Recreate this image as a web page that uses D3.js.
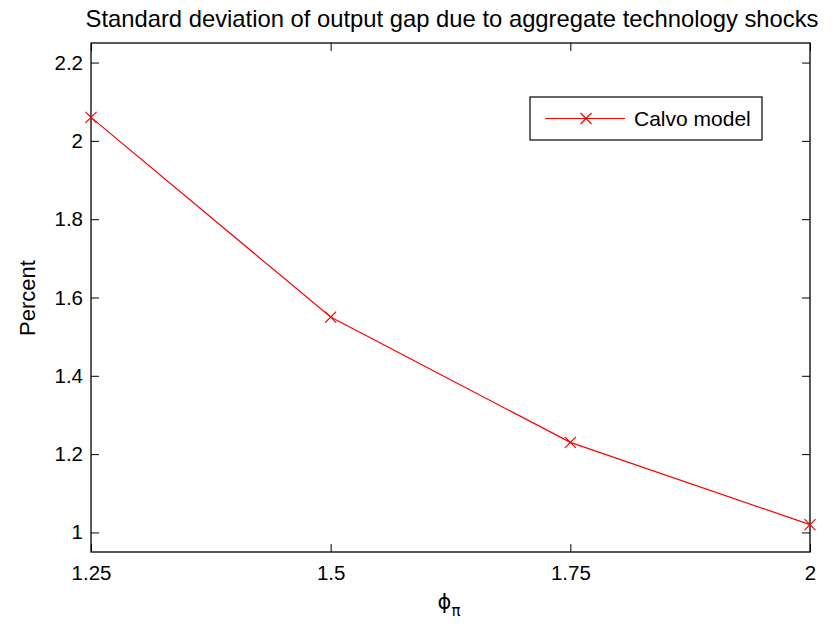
<!DOCTYPE html>
<html><head><meta charset="utf-8">
<script src="https://cdn.jsdelivr.net/npm/d3@7"></script>
<style>body{margin:0;background:#fff}svg{display:block}text{font-family:"Liberation Sans",Arial,sans-serif}</style>
</head><body><svg id="c" width="834" height="626"></svg>
<script>
const phiValues = [1.25, 1.5, 1.75, 2];
const calvoValues = [2.06, 1.55, 1.23, 1.02];
const xTicks = [1.25, 1.5, 1.75, 2];
const xTickLabels = ["1.25", "1.5", "1.75", "2"];
const yTicks = [1, 1.2, 1.4, 1.6, 1.8, 2, 2.2];
const yTickLabels = ["1", "1.2", "1.4", "1.6", "1.8", "2", "2.2"];
const seriesName = "Calvo model";
const titleText = "Standard deviation of output gap due to aggregate technology shocks";

const svg = d3.select("#c");
const L = 91, R = 810, T = 43, B = 552;
const x = d3.scaleLinear().domain([1.25, 2]).range([L, R]);
const y = d3.scaleLinear().domain([0.95, 2.25]).range([B, T]);
const tl = 8;
const fs = 20.5;

const gx = svg.append("g").attr("transform", `translate(0,${B})`)
  .call(d3.axisBottom(x).tickValues(xTicks).tickFormat((d,i)=>xTickLabels[i]).tickSizeInner(-tl).tickSizeOuter(0).tickPadding(13));
const gxt = svg.append("g").attr("transform", `translate(0,${T})`)
  .call(d3.axisTop(x).tickValues(xTicks).tickFormat("").tickSizeInner(-tl).tickSizeOuter(0));
const gy = svg.append("g").attr("transform", `translate(${L},0)`)
  .call(d3.axisLeft(y).tickValues(yTicks).tickFormat((d,i)=>yTickLabels[i]).tickSizeInner(-tl).tickSizeOuter(0).tickPadding(8));
const gyr = svg.append("g").attr("transform", `translate(${R},0)`)
  .call(d3.axisRight(y).tickValues(yTicks).tickFormat("").tickSizeInner(-tl).tickSizeOuter(0));
[gx,gxt,gy,gyr].forEach(g=>{
  g.select(".domain").remove();
  g.selectAll("line").attr("stroke","#000").attr("stroke-width",1);
  g.selectAll("text").attr("font-size",fs).attr("fill","#000").style("font-family","'Liberation Sans',Arial,sans-serif");
});
svg.append("rect").attr("x",L).attr("y",T).attr("width",R-L).attr("height",B-T)
  .attr("fill","none").attr("stroke","#000").attr("stroke-width",1.3);

const line = d3.line().x((d,i)=>x(phiValues[i])).y(d=>y(d));
svg.append("path").datum(calvoValues).attr("d",line).attr("fill","none").attr("stroke","#ff0000").attr("stroke-width",1.2);
const ms = 5.5;
function cross(g, cx, cy){
  g.append("path").attr("d",`M${cx-ms},${cy-ms}L${cx+ms},${cy+ms}M${cx-ms},${cy+ms}L${cx+ms},${cy-ms}`)
   .attr("stroke","#ff0000").attr("stroke-width",1.2).attr("fill","none");
}
const mg = svg.append("g");
calvoValues.forEach((v,i)=>cross(mg, x(phiValues[i]), y(v)));

svg.append("text").attr("x",452).attr("y",27).attr("text-anchor","middle").attr("font-size",23.8).text(titleText);

svg.append("text").attr("transform","translate(35,298) rotate(-90)").attr("text-anchor","middle").attr("font-size",22).text("Percent");
const xl = svg.append("text").attr("x",449).attr("y",609).attr("text-anchor","middle").attr("font-size",21).style("font-family","'DejaVu Sans',sans-serif");
xl.append("tspan").text("ϕ");
xl.append("tspan").attr("dy",7).attr("font-size",15).text("π");

const lg = svg.append("g");
lg.append("rect").attr("x",530).attr("y",97).attr("width",232).attr("height",43).attr("fill","#fff").attr("stroke","#000").attr("stroke-width",1.2);
lg.append("line").attr("x1",545).attr("x2",625).attr("y1",118.5).attr("y2",118.5).attr("stroke","#ff0000").attr("stroke-width",1.2);
cross(lg, 586, 118.5);
lg.append("text").attr("x",634).attr("y",125.5).attr("font-size",21).text(seriesName);
</script></body></html>
